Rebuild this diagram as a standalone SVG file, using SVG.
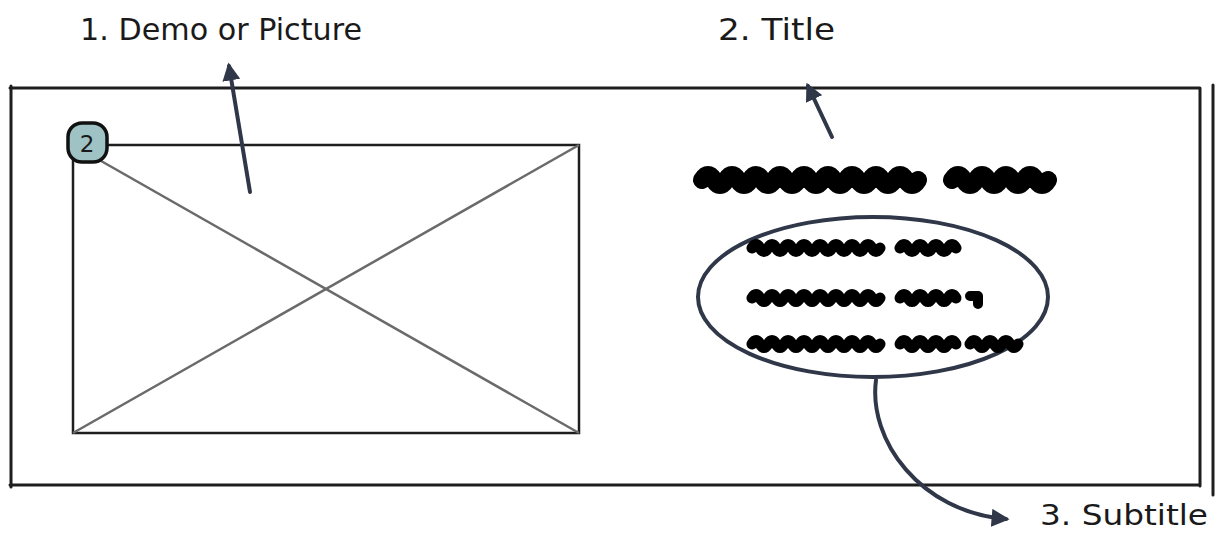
<svg xmlns="http://www.w3.org/2000/svg" width="1222" height="535" viewBox="0 0 1222 535">
<defs>
<style>
.frame{fill:none;stroke:#1e1e1e;stroke-width:3;stroke-linecap:round}
.diag{stroke:#6a6a6a;stroke-width:2.5}
.conn{fill:none;stroke:#2f3748;stroke-width:4;stroke-linecap:round}
.lbl{font-family:"DejaVu Sans",sans-serif;font-size:30px;fill:#1a1a1a}
.scrib{fill:none;stroke:#000;stroke-linecap:round;stroke-linejoin:round}
</style>
<marker id="ah" viewBox="0 0 10 10" refX="8" refY="5" markerWidth="4.5" markerHeight="4.5" orient="auto-start-reverse" markerUnits="strokeWidth">
<path d="M0,0 L10,5 L0,10 Z" fill="#2f3748"/>
</marker>
</defs>
<rect width="1222" height="535" fill="#fff"/>
<g id="frame">
<path class="frame" d="M10 88 L1200 88 M11 86 L11 487 M10 485 L1200 485 M1200 88 L1200 486"/>
<path class="frame" d="M1213 85 L1213 495" stroke-width="2.5"/>
</g>
<g id="picture">
<rect x="73" y="145" width="506" height="288" fill="none" stroke="#1e1e1e" stroke-width="2.5"/>
<line class="diag" x1="73" y1="145" x2="579" y2="433"/>
<line class="diag" x1="579" y1="145" x2="73" y2="433"/>
</g>
<g id="badge">
<rect x="68" y="123" width="39" height="39" rx="14" fill="#9fc3c4" stroke="#111" stroke-width="3.5"/>
<text x="87" y="152" text-anchor="middle" font-family="DejaVu Sans,sans-serif" font-size="23" fill="#1a1a1a">2</text>
</g>
<g id="title-scribble">
<path class="scrib" stroke-width="18" d="M702 180 q6 -10 12 0 t12 0 t12 0 t12 0 t12 0 t12 0 t12 0 t12 0 t12 0 t12 0 t12 0 t12 0 t12 0 t12 0 t12 0 t12 0 t12 0 t12 0"/>
<path class="scrib" stroke-width="18" d="M952 180 q6 -10 12 0 t12 0 t12 0 t12 0 t12 0 t12 0 t12 0 t12 0"/>
</g>
<g id="subtitle">
<ellipse cx="873" cy="297" rx="175" ry="80" fill="none" stroke="#2f3748" stroke-width="4"/>
<path class="scrib" stroke-width="11" d="M752 248 q4 -7 8 0 t8 0 t8 0 t8 0 t8 0 t8 0 t8 0 t8 0 t8 0 t8 0 t8 0 t8 0 t8 0 t8 0 t8 0 t8 0"/>
<path class="scrib" stroke-width="11" d="M900 248 q4 -7 8 0 t8 0 t8 0 t8 0 t8 0 t8 0 t8 0"/>
<path class="scrib" stroke-width="11" d="M752 298 q4 -7 8 0 t8 0 t8 0 t8 0 t8 0 t8 0 t8 0 t8 0 t8 0 t8 0 t8 0 t8 0 t8 0 t8 0 t8 0 t8 0"/>
<path class="scrib" stroke-width="11" d="M900 298 q4 -7 8 0 t8 0 t8 0 t8 0 t8 0 t8 0 t8 0"/>
<path class="scrib" stroke-width="10" d="M970 296 L978 296 L978 304"/>
<path class="scrib" stroke-width="11" d="M752 344 q4 -7 8 0 t8 0 t8 0 t8 0 t8 0 t8 0 t8 0 t8 0 t8 0 t8 0 t8 0 t8 0 t8 0 t8 0 t8 0 t8 0"/>
<path class="scrib" stroke-width="11" d="M900 344 q4 -7 8 0 t8 0 t8 0 t8 0 t8 0 t8 0 t8 0"/>
<path class="scrib" stroke-width="11" d="M970 344 q4 -7 8 0 t8 0 t8 0 t8 0 t8 0 t8 0"/>
</g>
<g id="connectors">
<path class="conn" d="M250 192 L229 66" marker-end="url(#ah)"/>
<path class="conn" d="M832 137 L808 86" marker-end="url(#ah)"/>
<path class="conn" d="M876 380 C868 440 920 512 1006 519" marker-end="url(#ah)"/>
</g>
<g id="labels">
<text class="lbl" x="80" y="40" textLength="282" lengthAdjust="spacingAndGlyphs">1. Demo or Picture</text>
<text class="lbl" x="718" y="40" textLength="117" lengthAdjust="spacingAndGlyphs">2. Title</text>
<text class="lbl" x="1040" y="525" font-size="28" style="font-size:28px" textLength="168" lengthAdjust="spacingAndGlyphs">3. Subtitle</text>
</g>
</svg>
